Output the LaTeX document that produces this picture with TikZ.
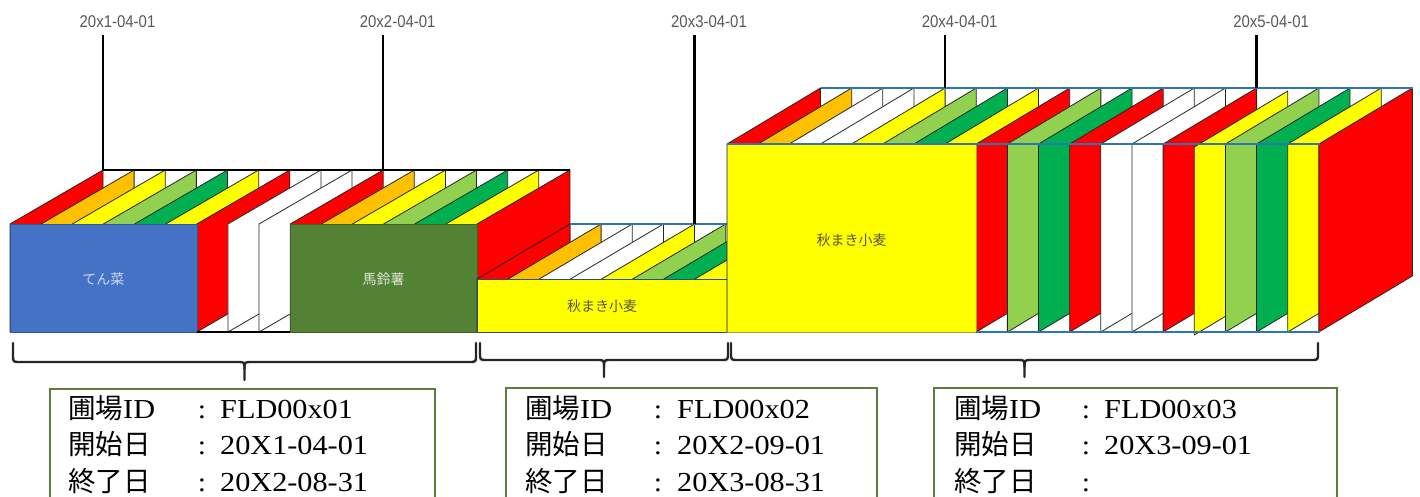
\documentclass[tikz,border=0pt]{standalone}
\usepackage{fontspec}
\setmainfont{Liberation Serif}
\newfontfamily\jpfont{Noto Sans CJK JP}
\newfontfamily\datefont[FakeStretch=0.88]{Liberation Sans}
\newfontfamily\valfont[FakeStretch=1.1]{Liberation Serif}
\definecolor{cR}{HTML}{FF0000}
\definecolor{cO}{HTML}{FFC000}
\definecolor{cY}{HTML}{FFFF00}
\definecolor{cLG}{HTML}{92D050}
\definecolor{cG}{HTML}{00B050}
\definecolor{cW}{HTML}{FFFFFF}
\definecolor{faceblue}{HTML}{4472C4}
\definecolor{facegreen}{HTML}{548235}
\definecolor{lineblue}{HTML}{2E75B6}
\definecolor{boxgreen}{HTML}{5A7D3C}
\definecolor{datecol}{HTML}{595959}
\begin{document}
\begin{tikzpicture}[x=1pt,y=-1pt,
  card/.style={draw=black!85, line width=0.8pt, line join=round},
  blueline/.style={draw=lineblue, line width=1.6pt},
  dateline/.style={draw=black, line width=2.4pt},
  datelbl/.style={font=\datefont\fontsize{17}{18}\selectfont, text=datecol, inner sep=0pt},
  croplbl/.style={font=\jpfont\fontsize{14}{15}\selectfont, inner sep=0pt},
  bracestyle/.style={draw=black!85, line width=2.4pt, line cap=round, line join=round},
  infobox/.style={draw=boxgreen, line width=2.2pt},
  infotxt/.style={anchor=base west, inner sep=0pt, font=\valfont\fontsize{27.5}{28}\selectfont},
  infocol/.style={anchor=base, inner sep=0pt, font=\valfont\fontsize{27}{28}\selectfont}]
\useasboundingbox (0,0) rectangle (1420,496);
\fill[white] (0,0) rectangle (1420,496);

% ---------- group 1 ----------
\foreach \col [count=\k from 0] in {cR,cO,cY,cLG,cG,cY,cR,cW,cW,cR,cO,cY,cLG,cG,cY,cR} {
  \pgfmathsetmacro\xa{10+31.13*\k}
  \filldraw[card, fill=\col] (\xa,224) -- ++(93,-54) -- ++(0,108) -- ++(-93,54) -- cycle;
}
\filldraw[fill=faceblue, draw=faceblue!75!black, line width=0.6pt] (10,224) rectangle (196.8,332);
\filldraw[fill=facegreen, draw=facegreen!75!black, line width=0.6pt] (290.2,224) rectangle (477,332);
\node[croplbl, text=faceblue!25!white] (tensai) at (103.4,279) {てん菜};
\node[croplbl, text=facegreen!20!white] (bareisho) at (383.6,279) {馬鈴薯};
\draw[line width=1.8pt] (196.8,332) -- (290.2,332);
\draw[line width=2pt] (103,170) -- (570,170);

% ---------- group 2 ----------
\foreach \col [count=\k from 0] in {cR,cO,cW,cW,cY,cLG,cG,cY} {
  \pgfmathsetmacro\xa{477+31.13*\k}
  \filldraw[card, fill=\col] (\xa,279) -- ++(93,-55) -- ++(0,53) -- ++(-93,55) -- cycle;
}
\filldraw[fill=cY, draw=lineblue!70!black, line width=0.7pt] (477,279) rectangle (727,332);
\node[croplbl, text=black!75!yellow] (komugi1) at (602,306) {秋まき小麦};
\draw[blueline] (570,224) -- (727,224);

% ---------- group 3 ----------
\foreach \col [count=\k from 0] in {cR,cO,cW,cW,cY,cLG,cG,cY,cR,cLG,cG,cR,cW,cW,cR,cY,cLG,cG,cY,cR} {
  \pgfmathsetmacro\xa{727+31.15*\k}
  \pgfmathsetmacro\ys{\k==15 ? 3 : 0}
  \filldraw[card, fill=\col] (\xa,144+\ys) -- ++(93.5,-56) -- ++(0,188) -- ++(-93.5,56) -- cycle;
}
\filldraw[fill=cY, draw=black!40!yellow, line width=0.6pt] (727,144) rectangle (976.2,332);
\node[croplbl, text=black!75!yellow] (komugi2) at (851.5,240) {秋まき小麦};
\draw[blueline] (820.5,88) -- (1413,88);
\draw[blueline] (727,144) -- (1320,144);
\draw[blueline] (976.2,332) -- (1320,332);

% ---------- date markers ----------
\node[datelbl] (l1) at (117.5,22) {20x1-04-01};
\node[datelbl] (l2) at (397.7,22) {20x2-04-01};
\node[datelbl] (l3) at (709.0,22) {20x3-04-01};
\node[datelbl] (l4) at (959.6,22) {20x4-04-01};
\node[datelbl] (l5) at (1271.1,22) {20x5-04-01};
\coordinate (d1t) at (103,35);    \coordinate (d1b) at (103,170);
\coordinate (d2t) at (383.2,35);  \coordinate (d2b) at (383.2,170);
\coordinate (d3t) at (694.5,35);  \coordinate (d3b) at (694.5,224);
\coordinate (d4t) at (945.1,35);  \coordinate (d4b) at (945.1,88);
\coordinate (d5t) at (1256.6,35); \coordinate (d5b) at (1256.6,88);
\draw[dateline] (d1t) -- (d1b);
\draw[dateline] (d2t) -- (d2b);
\draw[dateline] (d3t) -- (d3b);
\draw[dateline] (d4t) -- (d4b);
\draw[dateline] (d5t) -- (d5b);

% ---------- braces ----------
\newcommand\fieldbrace[5]{% x1, x2, ytop, ymid, ytip
  \pgfmathsetmacro\xc{(#1+#2)/2}
  \draw[bracestyle] (#1,#3) -- (#1,#4-7) .. controls (#1,#4) .. (#1+7,#4)
     -- (\xc-7,#4) .. controls (\xc,#4) .. (\xc,#4+7) -- (\xc,#5);
  \draw[bracestyle] (#2,#3) -- (#2,#4-7) .. controls (#2,#4) .. (#2-7,#4)
     -- (\xc+7,#4) .. controls (\xc,#4) .. (\xc,#4+7);
}
\fieldbrace{13}{476}{343}{362}{380}
\fieldbrace{480}{728}{343}{360}{377}
\fieldbrace{731}{1318}{343}{360}{377}

% ---------- info boxes ----------
\draw[infobox] (50,500) -- (50,389) -- (435,389) -- (435,500);
\draw[infobox] (506,500) -- (506,388) -- (877,388) -- (877,500);
\draw[infobox] (934,500) -- (934,388) -- (1337,388) -- (1337,500);

% box 1
\node[infotxt] (a1) at (68,418) {{\jpfont\fontsize{27.5}{28}\selectfont 圃場}ID};
\node[infotxt] (a2) at (68,454.5) {\jpfont\fontsize{27.5}{28}\selectfont 開始日};
\node[infotxt] (a3) at (68,491) {\jpfont\fontsize{27.5}{28}\selectfont 終了日};
\node[infocol] (ac1) at (202,418) {:};
\node[infocol] (ac2) at (202,454.5) {:};
\node[infocol] (ac3) at (202,491) {:};
\node[infotxt] (av1) at (220,418) {FLD00x01};
\node[infotxt] (av2) at (220,454.5) {20X1-04-01};
\node[infotxt] (av3) at (220,491) {20X2-08-31};
% box 2
\node[infotxt] (b1) at (525,418) {{\jpfont\fontsize{27.5}{28}\selectfont 圃場}ID};
\node[infotxt] (b2) at (525,454.5) {\jpfont\fontsize{27.5}{28}\selectfont 開始日};
\node[infotxt] (b3) at (525,491) {\jpfont\fontsize{27.5}{28}\selectfont 終了日};
\node[infocol] (bc1) at (658,418) {:};
\node[infocol] (bc2) at (658,454.5) {:};
\node[infocol] (bc3) at (658,491) {:};
\node[infotxt] (bv1) at (677,418) {FLD00x02};
\node[infotxt] (bv2) at (677,454.5) {20X2-09-01};
\node[infotxt] (bv3) at (677,491) {20X3-08-31};
% box 3
\node[infotxt] (c1) at (954,418) {{\jpfont\fontsize{27.5}{28}\selectfont 圃場}ID};
\node[infotxt] (c2) at (954,454.5) {\jpfont\fontsize{27.5}{28}\selectfont 開始日};
\node[infotxt] (c3) at (954,491) {\jpfont\fontsize{27.5}{28}\selectfont 終了日};
\node[infocol] (cc1) at (1086,418) {:};
\node[infocol] (cc2) at (1086,454.5) {:};
\node[infocol] (cc3) at (1086,491) {:};
\node[infotxt] (cv1) at (1104,418) {FLD00x03};
\node[infotxt] (cv2) at (1104,454.5) {20X3-09-01};
\end{tikzpicture}
\end{document}
